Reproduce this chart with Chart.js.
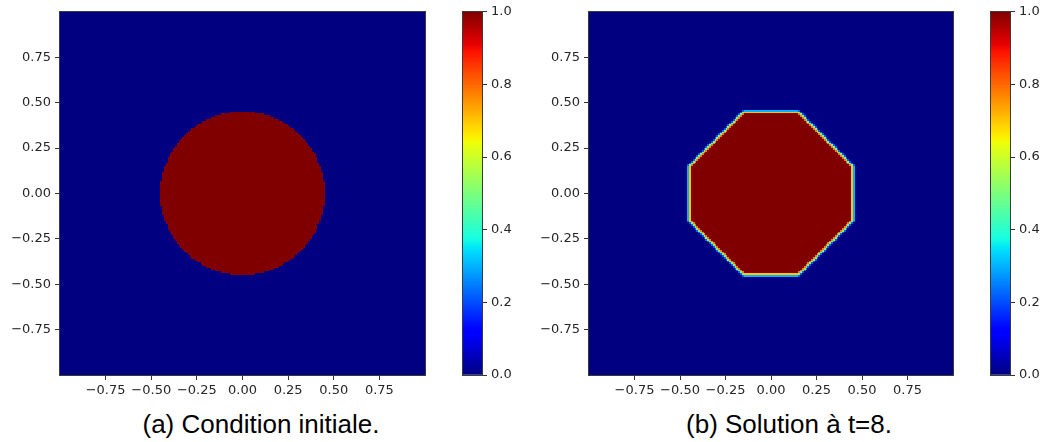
<!DOCTYPE html>
<html><head><meta charset="utf-8">
<script src="https://cdn.jsdelivr.net/npm/chart.js@4"></script>
<style>
body{margin:0;background:#fff;width:1046px;height:442px;overflow:hidden;position:relative;}
canvas{position:absolute;}
.cap{position:absolute;font-family:"Liberation Sans",Arial,sans-serif;font-size:26px;line-height:26px;color:#000;white-space:nowrap;transform:translateX(-50%);}
</style></head><body>
<canvas id="h1" width="440" height="400" style="left:0px;top:0px;width:440px;height:400px"></canvas>
<canvas id="c1" width="70" height="400" style="left:455px;top:0px;width:70px;height:400px"></canvas>
<canvas id="h2" width="440" height="400" style="left:529px;top:0px;width:440px;height:400px"></canvas>
<canvas id="c2" width="60" height="400" style="left:983px;top:0px;width:60px;height:400px"></canvas>
<div class="cap" style="left:261px;top:411px">(a) Condition initiale.</div>
<div class="cap" style="left:789px;top:411px">(b) Solution à t=8.</div>
<script>
// ---- data ----
const domain = [-1, 1];                       // x and y extent of both fields
const gridCells = 200;                         // cells per side
const axisTicks = [-0.75, -0.5, -0.25, 0, 0.25, 0.5, 0.75];
const colorbarTicks = [0, 0.2, 0.4, 0.6, 0.8, 1.0];
const colorRange = [0, 1];
// (a) initial condition: disc of value 1
const discCenter = [0, 0];
const discRadius = 0.45;
// (b) solution at t=8: octagon of value 1 with a thin smeared edge
const octagonX = [-0.15, 0.15, 0.45, 0.45, 0.15, -0.15, -0.45, -0.45];
const octagonY = [0.45, 0.45, 0.15, -0.15, -0.45, -0.45, -0.15, 0.15];
const edgeCells = 2.5;                         // width of the smeared edge, in cells

// ---- jet colormap ----
function interp(pts, v){
  for(let i=1;i<pts.length;i++){
    if(v<=pts[i][0]){const [x0,y0]=pts[i-1],[x1,y1]=pts[i];return y0+(y1-y0)*(v-x0)/(x1-x0);}
  }
  return pts[pts.length-1][1];
}
const JR=[[0,0],[0.35,0],[0.66,1],[0.89,1],[1,0.5]];
const JG=[[0,0],[0.125,0],[0.375,1],[0.64,1],[0.91,0],[1,0]];
const JB=[[0,0.5],[0.11,1],[0.34,1],[0.65,0],[1,0]];
function jet(v){v=Math.max(0,Math.min(1,v));return [interp(JR,v),interp(JG,v),interp(JB,v)].map(c=>Math.round(c*255));}

// ---- build the two fields as images (one pixel per cell) ----
const dx=(domain[1]-domain[0])/gridCells;
function makeField(valueAt){
  const cv=document.createElement('canvas');cv.width=gridCells;cv.height=gridCells;
  const c=cv.getContext('2d');const img=c.createImageData(gridCells,gridCells);
  for(let j=0;j<gridCells;j++){
    const yv=domain[1]-(j+0.5)*dx;
    for(let i=0;i<gridCells;i++){
      const xv=domain[0]+(i+0.5)*dx;
      const [r,g,b]=jet((valueAt(xv,yv)-colorRange[0])/(colorRange[1]-colorRange[0]));
      const k=(j*gridCells+i)*4;img.data[k]=r;img.data[k+1]=g;img.data[k+2]=b;img.data[k+3]=255;
    }
  }
  c.putImageData(img,0,0);return cv;
}
function discValue(x,y){return Math.hypot(x-discCenter[0],y-discCenter[1])<=discRadius?1:0;}
function octDist(x,y){
  let d=-Infinity;const n=octagonX.length;
  for(let i=0;i<n;i++){
    const x0=octagonX[i],y0=octagonY[i],x1=octagonX[(i+1)%n],y1=octagonY[(i+1)%n];
    const ex=x1-x0,ey=y1-y0,L=Math.hypot(ex,ey);
    const nx=-ey/L,ny=ex/L; // outward normal for clockwise order
    d=Math.max(d,(x-x0)*nx+(y-y0)*ny);
  }
  return d;
}
function octValue(x,y){return Math.max(0,Math.min(1,0.5-octDist(x,y)/(edgeCells*dx)));}
const fields={h1:makeField(discValue),h2:makeField(octValue)};

// ---- plugins ----
const heatPlugin={
  id:'heat',
  beforeDatasetsDraw(chart){
    const f=fields[chart.canvas.id];if(!f)return;
    const xs=chart.scales.x,ys=chart.scales.y,ctx=chart.ctx;
    const px0=xs.getPixelForValue(domain[0]),px1=xs.getPixelForValue(domain[1]);
    const py0=ys.getPixelForValue(domain[1]),py1=ys.getPixelForValue(domain[0]);
    ctx.save();ctx.imageSmoothingEnabled=false;
    ctx.drawImage(f,px0,py0,px1-px0,py1-py0);ctx.restore();
  }
};
const framePlugin={
  id:'frame',
  afterDraw(chart){
    const a=chart.chartArea,ctx=chart.ctx;
    ctx.save();ctx.strokeStyle='#3a3a3a';ctx.lineWidth=1;
    ctx.strokeRect(Math.round(a.left)-0.5,Math.round(a.top)-0.5,Math.round(a.right-a.left)+1,Math.round(a.bottom-a.top)+1);
    ctx.restore();
  }
};

const tickFont={family:'"DejaVu Sans"',size:13};
const tickColor='#262626';
function fmt2(v){return (v<0?'\u2212':'')+Math.abs(v).toFixed(2);}

function heatChart(id,padRight){
  return new Chart(document.getElementById(id),{
    type:'scatter',
    data:{datasets:[{data:[],pointRadius:0}]},
    options:{
      responsive:false,animation:false,devicePixelRatio:1,
      layout:{padding:{top:9,right:padRight,left:0,bottom:0}},
      plugins:{legend:{display:false},tooltip:{enabled:false}},
      scales:{
        x:{type:'linear',min:domain[0],max:domain[1],
          afterBuildTicks:ax=>{ax.ticks=axisTicks.map(v=>({value:v}));},
          afterFit:ax=>{ax.height=25;},
          border:{display:false},
          grid:{drawOnChartArea:false,drawTicks:true,tickLength:5,color:'#333'},
          ticks:{callback:v=>fmt2(v),font:tickFont,color:tickColor,padding:3,maxRotation:0,autoSkip:false}},
        y:{type:'linear',min:domain[0],max:domain[1],
          afterBuildTicks:ax=>{ax.ticks=axisTicks.map(v=>({value:v}));},
          afterFit:ax=>{ax.width=60;},
          border:{display:false},
          grid:{drawOnChartArea:false,drawTicks:true,tickLength:5,color:'#333'},
          ticks:{callback:v=>fmt2(v),font:tickFont,color:tickColor,padding:4,autoSkip:false}}
      }
    },
    plugins:[heatPlugin,framePlugin]
  });
}
function colorbarChart(id,axisWidth){
  return new Chart(document.getElementById(id),{
    type:'bar',
    data:{labels:[''],datasets:[{data:[[colorRange[0],colorRange[1]]],barPercentage:1,categoryPercentage:1,borderWidth:0,
      backgroundColor:(c)=>{
        const a=c.chart.chartArea;if(!a)return '#000080';
        const g=c.chart.ctx.createLinearGradient(0,a.bottom,0,a.top);
        for(let s=0;s<=100;s++){const [r,gg,b]=jet(s/100);g.addColorStop(s/100,`rgb(${r},${gg},${b})`);}
        return g;
      }}]},
    options:{
      responsive:false,animation:false,devicePixelRatio:1,
      layout:{padding:{top:9,left:8,right:0,bottom:25}},
      plugins:{legend:{display:false},tooltip:{enabled:false}},
      scales:{
        x:{display:false},
        y:{position:'right',min:colorRange[0],max:colorRange[1],
          afterBuildTicks:ax=>{ax.ticks=colorbarTicks.map(v=>({value:v}));},
          afterFit:ax=>{ax.width=axisWidth;},
          border:{display:false},
          grid:{drawOnChartArea:false,drawTicks:true,tickLength:5,color:'#333'},
          ticks:{callback:v=>v.toFixed(1),font:tickFont,color:tickColor,padding:4,autoSkip:false}}
      }
    },
    plugins:[framePlugin]
  });
}
heatChart('h1',15);
colorbarChart('c1',43);
heatChart('h2',16);
colorbarChart('c2',33);
</script>
</body></html>
